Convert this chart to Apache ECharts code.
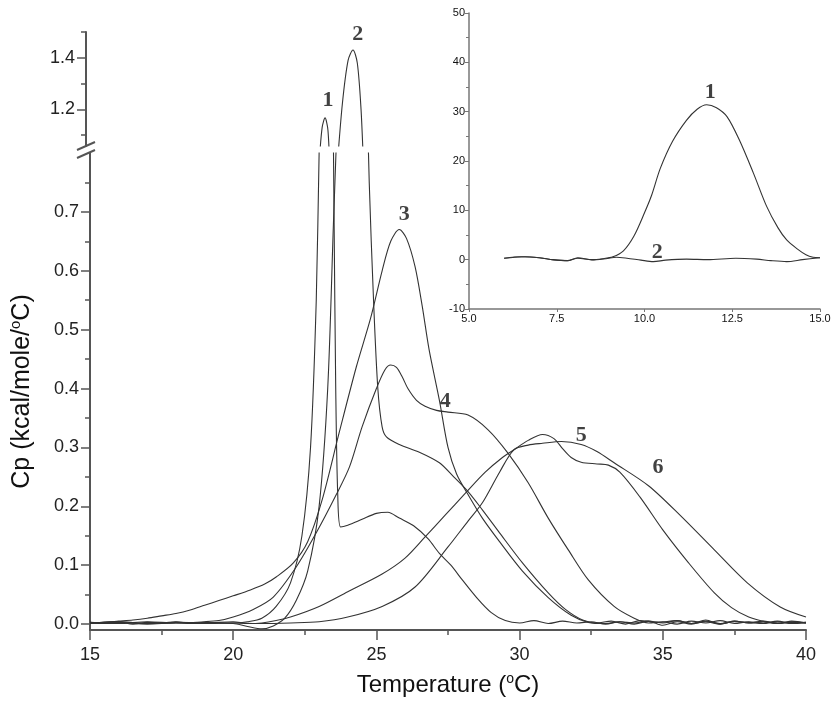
<!DOCTYPE html>
<html>
<head>
<meta charset="utf-8">
<script src="https://cdn.jsdelivr.net/npm/echarts@6/dist/echarts.min.js"></script>
<style>
html,body{margin:0;padding:0;background:#fff;}
#chart{width:839px;height:709px;}
</style>
</head>
<body>
<div id="chart"></div>
<script>
// ---- Main chart curves: [temperature (°C), Cp (kcal/mole/°C)] ----
const curve1 = [[15,0.003],[15.5,0.001],[16,0.004],[16.5,0.0],[17,0.003],[17.5,0.002],[18,0.004],[18.5,0.001],[19,0.003],[19.5,0.002],[20,0.002],[20.5,0.004],[21,0.01],[21.5,0.03],[22,0.07],[22.4,0.15],[22.7,0.3],[22.9,0.55],[23.0,0.8],[23.1,1.0],[23.2,1.13],[23.3,1.167],[23.4,1.12],[23.47,0.95],[23.52,0.7],[23.58,0.4],[23.65,0.22],[23.75,0.165],[24.0,0.168],[24.5,0.178],[25.0,0.188],[25.4,0.19],[25.8,0.18],[26.3,0.167],[26.8,0.145],[27.2,0.12],[27.6,0.1],[28.0,0.075],[28.5,0.045],[29.0,0.02],[29.5,0.006],[30,0.002],[30.5,0.006],[31,0.001],[31.5,0.005],[32,0.002],[32.5,0.004],[33,0.0],[33.5,0.004],[34,0.002],[34.5,0.005],[35,-0.002],[35.5,0.004],[36,0.0],[36.5,0.005],[37,0.001],[37.5,0.004],[38,0.003],[38.5,0.001],[39,0.004],[39.5,0.002],[40,0.003]];
const curve2 = [[15,0.002],[16,0.004],[17,0.001],[18,0.003],[19,0.002],[20,0.001],[20.5,-0.004],[21,-0.008],[21.4,-0.003],[21.8,0.01],[22.2,0.04],[22.6,0.09],[23.0,0.2],[23.3,0.4],[23.5,0.68],[23.7,0.95],[23.9,1.22],[24.1,1.39],[24.27,1.43],[24.42,1.38],[24.55,1.2],[24.65,0.95],[24.75,0.75],[24.9,0.55],[25.05,0.4],[25.2,0.335],[25.35,0.318],[25.8,0.305],[26.5,0.292],[27.2,0.274],[27.7,0.25],[28.2,0.225],[28.7,0.194],[29.3,0.155],[30.1,0.104],[31.0,0.053],[31.6,0.025],[32.2,0.007],[32.7,0.002],[33.2,0.005],[33.7,0.0],[34.2,0.006],[34.8,0.003],[35.5,0.006],[36,0.001],[36.5,0.007],[37,0.0],[37.5,0.005],[38,0.002],[38.5,0.005],[39,0.001],[39.5,0.004],[40,0.002]];
const curve3 = [[15,0.002],[15.5,0.003],[16,0.005],[16.5,0.007],[17,0.01],[17.5,0.014],[18,0.018],[18.5,0.024],[19,0.032],[19.5,0.04],[20,0.048],[20.6,0.058],[21.1,0.068],[21.5,0.08],[22.1,0.104],[22.6,0.14],[23.1,0.21],[23.7,0.325],[24.3,0.437],[24.8,0.52],[25.2,0.6],[25.5,0.65],[25.8,0.67],[26.05,0.655],[26.35,0.607],[26.6,0.54],[26.84,0.466],[27.2,0.38],[27.5,0.3],[27.8,0.255],[28.2,0.22],[28.7,0.18],[29.3,0.14],[30.1,0.09],[31.0,0.045],[31.8,0.015],[32.4,0.003],[33,0.001],[33.5,0.004],[34,0.0],[34.5,0.005],[35,0.002],[35.5,0.006],[36,0.001],[36.5,0.004],[37,0.0],[37.5,0.005],[38,0.002],[38.5,0.004],[39,0.001],[39.5,0.003],[40,0.002]];
const curve4 = [[15,0.003],[16,0.001],[17,0.004],[18,0.002],[19,0.004],[19.5,0.006],[20,0.012],[20.7,0.025],[21.4,0.046],[22.2,0.097],[22.9,0.155],[23.6,0.22],[24.06,0.267],[24.5,0.335],[25.0,0.40],[25.3,0.432],[25.5,0.44],[25.7,0.436],[25.9,0.42],[26.1,0.40],[26.4,0.38],[26.7,0.37],[27.1,0.363],[27.5,0.36],[28.2,0.355],[28.9,0.33],[29.6,0.29],[30.3,0.24],[31.0,0.18],[31.7,0.126],[32.4,0.075],[33.3,0.03],[34.0,0.01],[34.5,0.002],[35,0.004],[35.5,0.0],[36,0.005],[36.5,0.002],[37,0.006],[37.5,0.001],[38,0.004],[38.5,0.002],[39,0.005],[39.5,0.001],[40,0.003]];
const curve5 = [[15,0.002],[16,0.004],[17,0.001],[18,0.003],[19,0.002],[20,0.004],[20.5,0.001],[21,0.002],[21.5,0.006],[22,0.012],[23,0.03],[24,0.055],[25.2,0.085],[26,0.112],[26.7,0.148],[27.4,0.185],[28.1,0.222],[28.8,0.258],[29.4,0.283],[29.8,0.296],[30.3,0.312],[30.8,0.322],[31.2,0.315],[31.5,0.298],[31.8,0.283],[32.15,0.275],[32.7,0.272],[33.1,0.27],[33.5,0.258],[34.2,0.216],[35.0,0.16],[35.9,0.104],[36.8,0.053],[37.4,0.028],[38.0,0.012],[38.6,0.004],[39.1,0.002],[39.5,0.005],[40,0.002]];
const curve6 = [[15,0.001],[16,0.003],[17,0.0],[18,0.002],[19,0.001],[20,0.002],[21,0.001],[22,0.002],[23,0.004],[24,0.012],[25.2,0.03],[26.35,0.063],[27.5,0.131],[28.2,0.175],[28.7,0.206],[29.3,0.258],[29.8,0.296],[30.3,0.304],[30.8,0.307],[31.46,0.31],[32.15,0.305],[32.7,0.293],[33.3,0.274],[34.5,0.235],[35.6,0.185],[36.8,0.126],[37.95,0.07],[39.1,0.029],[40,0.012]];

// ---- Inset curves: [x, y] ----
const inset1 = [[6.0,0.3],[6.3,0.5],[6.6,0.6],[7.0,0.4],[7.4,0.0],[7.8,-0.2],[8.1,0.3],[8.5,0.0],[8.8,0.2],[9.1,0.6],[9.4,1.8],[9.7,4.8],[10.0,9.5],[10.2,13],[10.45,18.5],[10.8,24],[11.2,28.3],[11.5,30.5],[11.77,31.4],[12.05,30.8],[12.35,29],[12.7,24.3],[13.1,17.6],[13.48,10.8],[13.8,6.5],[14.05,4],[14.35,2.2],[14.6,1.0],[14.8,0.5],[15.0,0.4]];
const inset2 = [[6.0,0.3],[6.5,0.6],[7.0,0.4],[7.4,-0.05],[7.8,-0.2],[8.1,0.4],[8.5,-0.05],[8.9,0.2],[9.2,0.5],[9.5,0.3],[9.9,-0.1],[10.25,-0.4],[10.6,-0.1],[11.2,0.1],[11.8,0.0],[12.6,0.3],[13.2,0.1],[13.6,-0.2],[14.05,-0.4],[14.5,0.0],[15.0,0.4]];

// ---- Curve number labels [x, y, text] ----
const upperLabels = [[23.4,1.236,'1'],[24.44,1.49,'2']];
const lowerLabels = [[25.97,0.696,'3'],[27.4,0.378,'4'],[32.15,0.321,'5'],[34.83,0.267,'6']];
const insetLabels = [[11.87,34.0,'1'],[10.36,1.4,'2']];

// ---- Tick values ----
const lowerMajor = [0,0.1,0.2,0.3,0.4,0.5,0.6,0.7];
const lowerMinor = [0.05,0.15,0.25,0.35,0.45,0.55,0.65,0.75];
const upperMajor = [1.2,1.4];
const upperMinor = [1.1,1.3,1.5];

const AX = '#555';
const LINE = '#333';
const F = 'Liberation Sans, Arial, sans-serif';
const FN = 'Liberation Sans Narrow, Liberation Sans, Arial, sans-serif';

const chart = echarts.init(document.getElementById('chart'));

function mainLine(data, xi, yi){
  return {type:'line', data:data, xAxisIndex:xi, yAxisIndex:yi, symbol:'none', smooth:0.3,
    lineStyle:{color:LINE, width:1.1}, silent:true, animation:false, clip:true};
}
function labelSeries(arr, xi, yi){
  return {type:'scatter', xAxisIndex:xi, yAxisIndex:yi, symbolSize:1, itemStyle:{color:'rgba(0,0,0,0)'},
    data:arr, animation:false, silent:true,
    label:{show:true, position:'inside', formatter:p=>p.data[2], fontFamily:'Liberation Serif, Times New Roman, serif',
      fontWeight:'bold', fontSize:22, color:'#111'}};
}

const option = {
  backgroundColor:'#fff',
  animation:false,
  grid:[
    {left:86, right:33, top:153, bottom:79},
    {left:86, right:33, top:32, height:114},
    {left:469, top:13, width:351, height:296}
  ],
  xAxis:[
    {gridIndex:0, type:'value', position:'bottom', min:15, max:40, interval:5,
      axisLine:{onZero:false, lineStyle:{color:AX, width:2}},
      axisTick:{show:true, length:10, lineStyle:{color:AX, width:1.5}},
      minorTick:{show:true, splitNumber:2, length:5, lineStyle:{color:AX, width:1.5}},
      axisLabel:{fontFamily:F, fontSize:18, color:'#222', margin:16},
      splitLine:{show:false},
      name:'{a|Temperature (}{s|o}{a|C)}', nameLocation:'middle', nameGap:42,
      nameTextStyle:{rich:{a:{fontFamily:FN, fontSize:24, color:'#111'}, s:{fontFamily:FN, fontSize:14, color:'#111', verticalAlign:'top', padding:[0,0,12,0]}}}
    },
    {gridIndex:1, type:'value', position:'bottom', min:15, max:40, show:false},
    {gridIndex:2, type:'value', position:'bottom', min:5, max:15, interval:2.5,
      axisLine:{onZero:false, lineStyle:{color:'#777', width:1.5}},
      axisTick:{show:true, length:3, lineStyle:{color:'#777'}},
      axisLabel:{fontFamily:FN, fontSize:11, color:'#111', margin:4, formatter:v=>v.toFixed(1)},
      splitLine:{show:false}
    }
  ],
  yAxis:[
    {gridIndex:0, type:'value', position:'left', min:-0.01, max:0.8,
      axisLine:{show:true, onZero:false, lineStyle:{color:AX, width:2}},
      axisTick:{show:true, length:9, customValues:lowerMajor, lineStyle:{color:AX, width:1.5}},
      axisLabel:{customValues:lowerMajor, fontFamily:F, fontSize:18, color:'#222', margin:11, formatter:v=>v.toFixed(1)},
      splitLine:{show:false},
      name:'{a|Cp (kcal/mole/}{s|o}{a|C)}', nameLocation:'middle', nameGap:54,
      nameTextStyle:{rich:{a:{fontFamily:F, fontSize:25, color:'#111'}, s:{fontFamily:F, fontSize:15, color:'#111', verticalAlign:'top', padding:[0,0,13,0]}}}
    },
    {gridIndex:0, type:'value', position:'left', min:-0.01, max:0.8,
      axisLine:{show:false, onZero:false},
      axisTick:{show:true, length:5, customValues:lowerMinor, lineStyle:{color:AX, width:1.5}},
      axisLabel:{show:false}, splitLine:{show:false}
    },
    {gridIndex:1, type:'value', position:'left', min:1.058, max:1.5,
      axisLine:{show:true, onZero:false, lineStyle:{color:AX, width:2}},
      axisTick:{show:true, length:9, customValues:upperMajor, lineStyle:{color:AX, width:1.5}},
      axisLabel:{customValues:upperMajor, fontFamily:F, fontSize:18, color:'#222', margin:11, formatter:v=>v.toFixed(1)},
      splitLine:{show:false}
    },
    {gridIndex:1, type:'value', position:'left', min:1.058, max:1.5,
      axisLine:{show:false, onZero:false},
      axisTick:{show:true, length:5, customValues:upperMinor, lineStyle:{color:AX, width:1.5}},
      axisLabel:{show:false}, splitLine:{show:false}
    },
    {gridIndex:2, type:'value', position:'left', min:-10, max:50, interval:10,
      axisLine:{show:true, onZero:false, lineStyle:{color:'#777', width:1.5}},
      axisTick:{show:true, length:4, lineStyle:{color:'#777'}},
      minorTick:{show:true, splitNumber:2, length:3, lineStyle:{color:'#777'}},
      axisLabel:{fontFamily:FN, fontSize:11, color:'#111', margin:4},
      splitLine:{show:false}
    }
  ],
  series:[
    mainLine(curve1,0,0), mainLine(curve2,0,0), mainLine(curve3,0,0),
    mainLine(curve4,0,0), mainLine(curve5,0,0), mainLine(curve6,0,0),
    mainLine(curve1,1,2), mainLine(curve2,1,2),
    mainLine(inset1,2,4), mainLine(inset2,2,4),
    labelSeries(lowerLabels,0,0), labelSeries(upperLabels,1,2), labelSeries(insetLabels,2,4)
  ],
  graphic:[
    {type:'line', shape:{x1:77,y1:150,x2:95,y2:142}, style:{stroke:AX, lineWidth:2}, silent:true},
    {type:'line', shape:{x1:77,y1:158,x2:95,y2:150}, style:{stroke:AX, lineWidth:2}, silent:true}
  ]
};
chart.setOption(option);
</script>
</body>
</html>
